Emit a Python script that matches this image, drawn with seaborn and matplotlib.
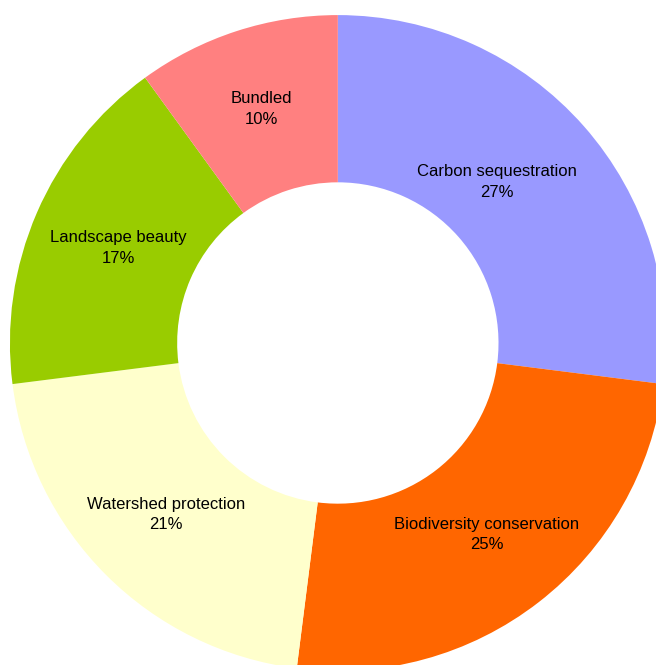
import numpy as np
import matplotlib
matplotlib.use('Agg')
import matplotlib.pyplot as plt
import seaborn as sns

categories = ['Carbon sequestration', 'Biodiversity conservation', 'Watershed protection',
              'Landscape beauty', 'Bundled']
shares = [27, 25, 21, 17, 10]
colors = ['#9999FF', '#FF6600', '#FFFFCC', '#99CC00', '#FF8080']

sns.set_theme(style='white')
plt.rcParams['font.family'] = ['Liberation Sans', 'DejaVu Sans']

fig = plt.figure(figsize=(6.56, 6.65), dpi=100)
ax = fig.add_axes([0, 0, 1, 1])

wedges, _ = ax.pie(shares, colors=sns.color_palette(colors), startangle=90, counterclock=False,
                   radius=1.0, wedgeprops=dict(width=0.51, linewidth=0))

# labels sit in the ring, the first one nudged a bit toward the top like the original
label_r = [0.69, 0.74, 0.74, 0.73, 0.75]
nudge = [4, 0, 0, 0, 0]
for w, name, s, r, d in zip(wedges, categories, shares, label_r, nudge):
    ang = np.deg2rad((w.theta1 + w.theta2) / 2 + d)
    ax.text(r * np.cos(ang), r * np.sin(ang), f'{name}\n{s}%', ha='center', va='center',
            fontsize=12, color='black', linespacing=1.45)

ax.set_aspect('equal')
ax.set_xlim(-1.030, 0.970)
ax.set_ylim(-0.982, 1.046)
ax.axis('off')

fig.savefig('out.png', dpi=100, facecolor='white')
